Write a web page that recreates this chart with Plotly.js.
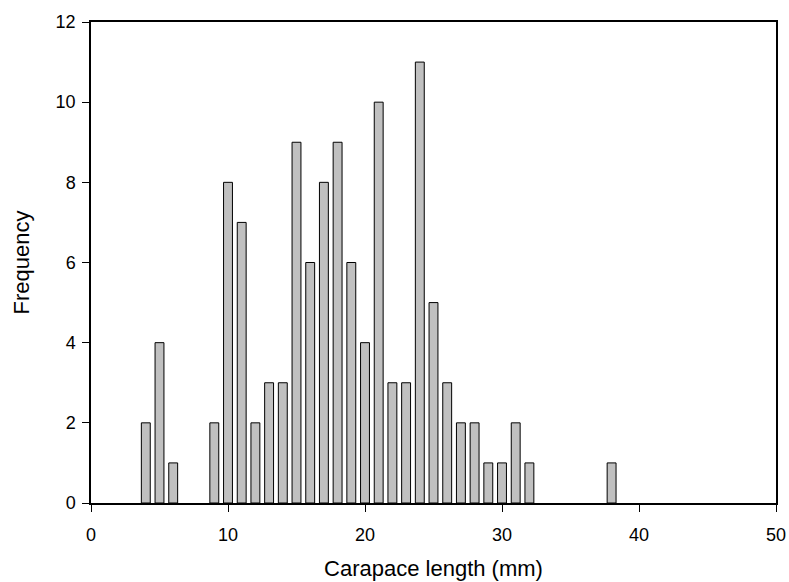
<!DOCTYPE html>
<html><head><meta charset="utf-8">
<script src="https://cdn.plot.ly/plotly-3.0.1.min.js"></script>
<style>html,body{margin:0;padding:0;background:#fff}</style>
</head><body><div id="chart" style="width:789px;height:582px"></div>
<script>
const lengths = [4,5,6,9,10,11,12,13,14,15,16,17,18,19,20,21,22,23,24,25,26,27,28,29,30,31,32,38];
const frequency = [2,4,1,2,8,7,2,3,3,9,6,8,9,6,4,10,3,3,11,5,3,2,2,1,1,2,1,1];
const xTicks = [0,10,20,30,40,50];
const yTicks = [0,2,4,6,8,10,12];

Plotly.newPlot('chart', [{
  type: 'bar', x: lengths, y: frequency, width: 0.65,
  marker: {color: '#c0c0c0', line: {color: '#000', width: 1}}
}], {
  width: 789, height: 582,
  margin: {l: 91, r: 13, t: 22, b: 79},
  paper_bgcolor: '#fff', plot_bgcolor: '#fff',
  font: {family: 'Liberation Sans, Arial, sans-serif', color: '#000', size: 17},
  showlegend: false,
  xaxis: {range: [0, 50], tickmode: 'array', tickvals: xTicks, ticktext: xTicks.map(String),
    ticks: 'outside', ticklen: 7, tickcolor: '#000',
    tickfont: {family: 'Liberation Sans, Arial, sans-serif', size: 18, color: '#000'}, ticklabelstandoff: 8,
    showline: true, linecolor: '#000', linewidth: 1.5, mirror: true, showgrid: false, zeroline: false,
    title: {text: 'Carapace length (mm)', font: {size: 22}, standoff: 16}},
  yaxis: {range: [0, 12], tickmode: 'array', tickvals: yTicks, ticktext: yTicks.map(String),
    ticks: 'outside', ticklen: 7, tickcolor: '#000',
    tickfont: {family: 'Liberation Sans, Arial, sans-serif', size: 18, color: '#000'}, ticklabelstandoff: 3,
    showline: true, linecolor: '#000', linewidth: 1.5, mirror: true, showgrid: false, zeroline: false,
    title: {text: 'Frequency', font: {size: 22}, standoff: 20}}
}, {displayModeBar: false});
</script></body></html>
